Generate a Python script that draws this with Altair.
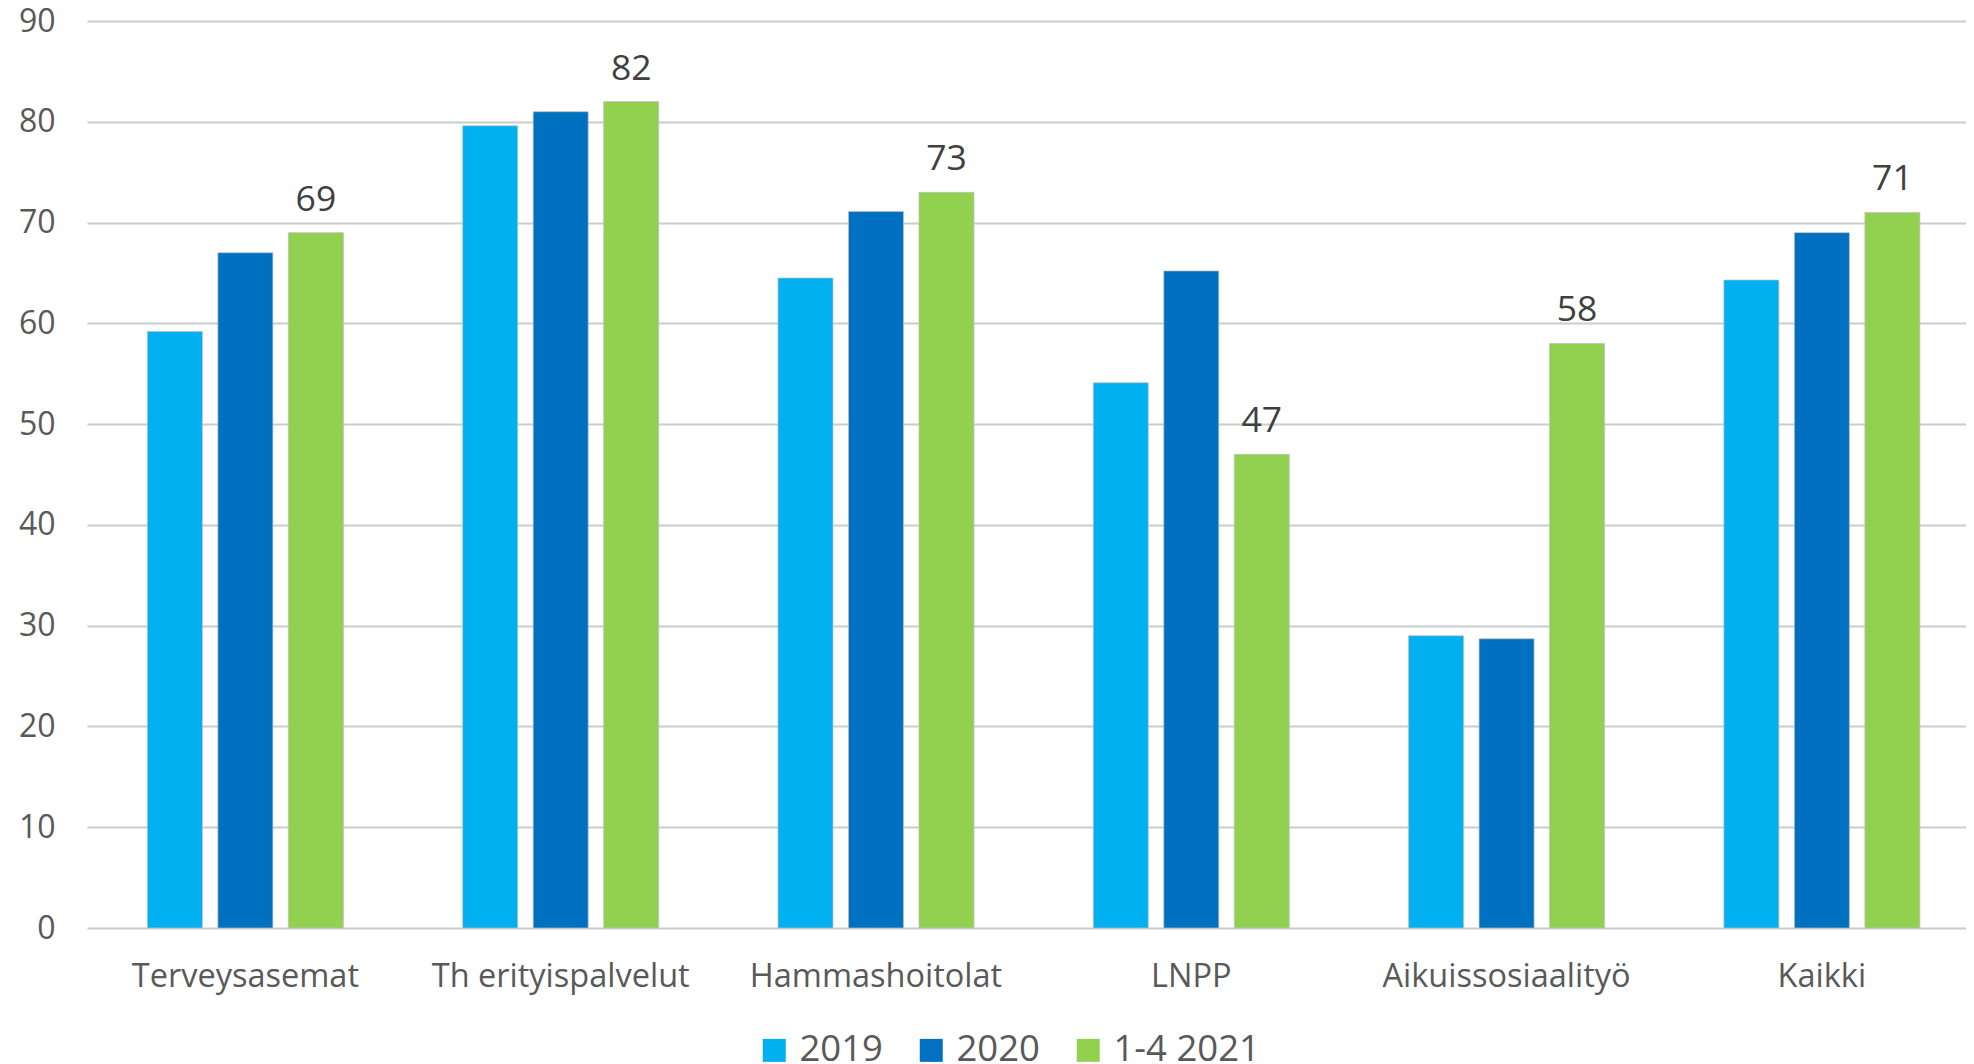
import altair as alt
import pandas as pd

categories = ["Terveysasemat", "Th erityispalvelut", "Hammashoitolat", "LNPP", "Aikuissosiaalityö", "Kaikki"]
series = ["2019", "2020", "1-4 2021"]
v2019 = [59.2, 79.6, 64.5, 54.1, 29.0, 64.3]
v2020 = [67.0, 81.0, 71.1, 65.2, 28.7, 69.0]
v2021 = [69, 82, 73, 47, 58, 71]
colors = ["#00B0F0", "#0070C0", "#92D050"]
y_ticks = [0, 10, 20, 30, 40, 50, 60, 70, 80, 90]

rows = []
for s, vals in zip(series, [v2019, v2020, v2021]):
    for c, v in zip(categories, vals):
        rows.append({"cat": c, "series": s, "value": v,
                     "label": str(int(round(v))) if s == "1-4 2021" else ""})
df = pd.DataFrame(rows)

FONT = "Open Sans"

x = alt.X("cat:N", sort=categories, title=None,
          scale=alt.Scale(paddingInner=0.3784, paddingOuter=0.1689, align=0.567),
          axis=alt.Axis(labelAngle=0, labelFontSize=32.5, labelColor="#595959",
                        labelFont=FONT, labelBaseline="alphabetic", labelPadding=58,
                        labelLimit=0, ticks=False, domain=False, grid=False))
xo = alt.XOffset("series:N", sort=series,
                 scale=alt.Scale(domain=series, paddingInner=0.22, paddingOuter=0))
y = alt.Y("value:Q", title=None,
          scale=alt.Scale(domain=[0, 90], nice=False),
          axis=alt.Axis(values=y_ticks, labelFontSize=32, labelColor="#595959",
                        labelFont=FONT, labelPadding=32, ticks=False, domain=False,
                        grid=True, gridColor="#cccccc", gridWidth=2))

bars = alt.Chart(df).mark_bar(stroke="#bfbfbf", strokeWidth=1, strokeOpacity=0.7).encode(
    x=x, xOffset=xo, y=y,
    color=alt.Color("series:N", sort=series,
                    scale=alt.Scale(domain=series, range=colors),
                    legend=alt.Legend(title=None, orient="none", legendX=669, legendY=1011,
                                      direction="horizontal", columns=3, padding=0,
                                      symbolType="square", symbolSize=529,
                                      symbolStrokeWidth=0, labelFontSize=36.5,
                                      labelFont=FONT, labelColor="#595959",
                                      labelOffset=7, columnPadding=30)),
)

text = alt.Chart(df).mark_text(fontSize=35.5, font=FONT, color="#404040",
                               baseline="alphabetic", dy=-22).encode(
    x=x, xOffset=xo, y=y, text="label:N"
)

chart = alt.layer(bars, text).properties(
    width=1879, height=907,
    padding={"left": 79, "top": 13, "right": 0, "bottom": 140},
    autosize=alt.AutoSizeParams(type="none"),
).configure_view(stroke=None)

chart.save("out.html", embed_options={"renderer": "svg", "actions": False})
